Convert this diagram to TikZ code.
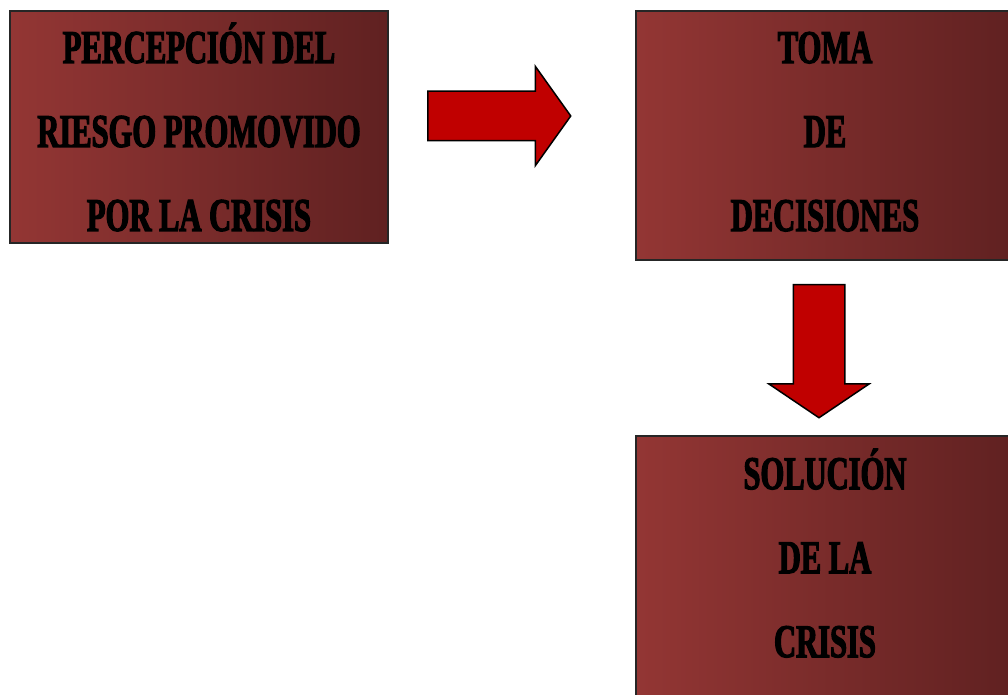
\documentclass[tikz,border=0pt]{standalone}
\usepackage{fontspec}
\usepackage{tikz}
\usetikzlibrary{positioning,shapes.arrows}
\newfontfamily\boxfont{Liberation Serif}[FakeStretch=0.65,FakeBold=2.5]
\definecolor{boxleft}{RGB}{147,54,52}
\definecolor{boxright}{RGB}{96,33,33}
\definecolor{arrowred}{RGB}{192,0,0}
\tikzset{box/.style = {rectangle,draw=black!85,line width=0.75pt,left color=boxleft,right color=boxright,
                       align=center,inner sep=0pt,minimum width=189pt,
                       font=\boxfont\bfseries\fontsize{23.5}{42}\selectfont},
         bigarrow/.style = {single arrow,draw=black,line width=0.75pt,fill=arrowred,inner xsep=0pt,
                            single arrow head indent=0pt}}

\begin{document}
\begin{tikzpicture}[x=0.5pt,y=-0.5pt]
            \clip (0,0) rectangle (1008,695);
            \node[box,minimum height=116pt] (percepcion) at (199,127)
                {PERCEPCIÓN DEL\\RIESGO PROMOVIDO\\POR LA CRISIS};
            \node[box,minimum height=124.5pt,text depth=4pt] (toma) at (825,135.5)
                {TOMA\\DE\\DECISIONES};
            \node[box,minimum height=131pt,text depth=14pt] (solucion) at (825,567)
                {SOLUCIÓN\\DE LA\\CRISIS};
            \node[bigarrow,anchor=tail,minimum height=71.5pt,inner ysep=12pt,
                  single arrow head extend=12.5pt,single arrow tip angle=109] (flecha1) at (427,116) {};
            \node[bigarrow,anchor=tail,rotate=-90,minimum height=66.5pt,inner ysep=12.5pt,
                  single arrow head extend=12.25pt,single arrow tip angle=112] (flecha2) at (819,284) {};
        \end{tikzpicture}
\end{document}
